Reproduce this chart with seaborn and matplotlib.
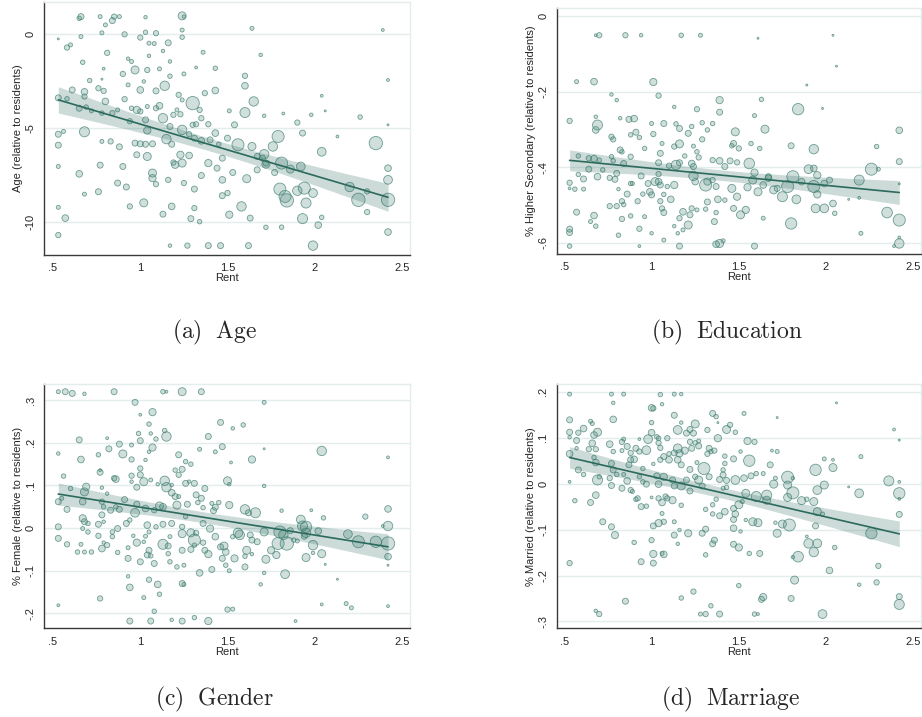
import numpy as np
import pandas as pd
import matplotlib
matplotlib.use("Agg")
import matplotlib.pyplot as plt
import seaborn as sns

# ---- (a) Age ----
age_rent = [0.53, 0.66, 0.65, 0.77, 0.85, 0.88, 1.24, 1.25, 1.03, 0.78,
            0.80, 0.84, 0.66, 0.91, 1.00, 1.03, 1.24, 1.24, 1.09, 1.64,
            2.39, 0.58, 0.60, 0.67, 0.81, 0.79, 0.78, 0.93, 0.95, 0.97,
            1.04, 1.05, 1.08, 1.05, 1.16, 1.13, 1.17, 1.17, 1.11, 1.25,
            1.36, 1.32, 1.43, 1.69, 0.61, 0.53, 0.58, 0.71, 0.68, 0.68,
            0.65, 0.69, 0.72, 0.76, 0.79, 0.80, 0.78, 0.84, 0.87, 0.93,
            0.90, 0.91, 0.95, 0.98, 1.00, 0.94, 1.00, 1.02, 1.04, 1.03,
            1.04, 1.03, 1.09, 1.09, 1.11, 1.14, 1.13, 1.19, 1.21, 1.17,
            1.15, 1.18, 1.07, 1.22, 1.24, 1.23, 1.30, 1.34, 1.37, 1.43,
            1.35, 1.24, 1.28, 1.30, 1.32, 1.31, 1.35, 1.40, 1.43, 1.39,
            1.45, 1.50, 1.54, 1.56, 1.60, 1.65, 1.60, 1.60, 1.51, 1.64,
            1.67, 1.71, 1.76, 1.72, 1.79, 1.81, 1.90, 1.93, 1.92, 2.04,
            2.35, 2.26, 2.04, 2.06, 1.82, 1.98, 2.13, 2.42, 2.42, 1.71,
            0.53, 0.53, 0.56, 0.53, 0.53, 0.53, 0.57, 0.65, 0.68, 0.68,
            0.77, 0.76, 0.78, 0.83, 0.88, 0.87, 0.92, 0.90, 0.94, 0.97,
            1.00, 0.98, 1.02, 1.04, 1.07, 1.07, 1.09, 1.13, 1.16, 1.18,
            1.19, 1.20, 1.24, 1.25, 1.23, 1.28, 1.31, 1.31, 1.29, 1.34,
            1.27, 1.17, 1.39, 1.46, 1.62, 1.99, 1.35, 1.39, 1.44, 1.47,
            1.47, 1.51, 1.50, 1.47, 1.53, 1.58, 1.61, 1.63, 1.67, 1.70,
            1.72, 1.77, 1.80, 1.83, 1.84, 1.81, 1.72, 1.86, 1.90, 1.93,
            1.94, 1.95, 1.99, 2.02, 2.04, 2.20, 2.25, 2.30, 2.30, 2.42,
            2.42, 2.42, 2.42]
age_gap = [-0.28, 0.90, 0.81, 0.90, 0.90, 0.90, 0.94, 0.90, 0.87, 0.04,
           0.46, 0.69, -0.16, -0.04, -0.21, 0.07, 0.19, -0.19, 0.02, 0.28,
           0.19, -0.74, -0.60, -1.52, -1.02, -1.86, -2.42, -1.33, -1.48, -1.93,
           -1.93, -0.51, -0.53, -1.18, -0.49, -0.92, -1.48, -2.26, -1.87, -2.14,
           -0.99, -1.80, -1.84, -1.13, -2.99, -3.41, -3.46, -2.49, -3.09, -3.34,
           -3.96, -3.90, -4.10, -2.90, -3.04, -3.60, -4.22, -4.22, -4.05, -2.72,
           -2.14, -3.48, -3.96, -4.05, -4.13, -4.65, -2.99, -2.54, -3.87, -4.58,
           -5.14, -5.87, -3.04, -3.96, -3.83, -2.77, -4.49, -4.31, -4.05, -4.93,
           -5.60, -5.87, -5.85, -3.25, -3.52, -4.28, -3.69, -4.05, -3.16, -3.02,
           -4.49, -5.11, -5.34, -4.84, -4.81, -5.55, -5.69, -5.64, -5.28, -4.81,
           -5.87, -5.55, -4.84, -5.90, -4.19, -3.60, -2.77, -2.24, -4.10, -5.99,
           -6.52, -6.40, -5.99, -6.87, -5.46, -6.87, -4.72, -5.28, -7.05, -6.27,
           -5.81, -4.43, -3.30, -4.10, -4.24, -4.31, -5.46, -2.46, -4.84, -4.36,
           -5.34, -5.92, -5.19, -7.05, -9.22, -10.69, -9.79, -7.44, -5.21, -8.52,
           -6.98, -8.39, -5.72, -5.72, -6.01, -7.93, -8.14, -7.05, -9.17, -5.81,
           -5.85, -6.43, -8.98, -6.52, -7.40, -7.67, -7.99, -9.58, -7.76, -9.17,
           -6.84, -6.96, -6.87, -7.93, -6.43, -6.47, -8.25, -9.26, -9.82, -9.98,
           -11.25, -11.25, -11.25, -11.25, -11.25, -11.25, -7.53, -6.87, -7.14, -7.76,
           -6.61, -9.61, -8.46, -8.60, -7.37, -9.17, -7.70, -9.79, -7.23, -6.61,
           -6.93, -7.37, -8.25, -8.64, -8.85, -10.27, -10.28, -7.19, -8.34, -9.82,
           -8.20, -8.99, -8.46, -10.16, -9.75, -8.14, -8.82, -8.37, -9.47, -7.14,
           -7.76, -8.82, -10.53]
age_pop = [1, 9, 5, 4, 7, 4, 16, 3, 3, 4,
           4, 9, 4, 7, 7, 5, 4, 5, 7, 4,
           2, 7, 4, 5, 7, 2, 1, 3, 4, 16,
           7, 4, 4, 3, 9, 3, 3, 5, 4, 4,
           4, 2, 5, 3, 9, 9, 5, 5, 11, 7,
           9, 5, 4, 7, 7, 11, 5, 7, 4, 4,
           7, 7, 5, 13, 7, 7, 11, 3, 4, 9,
           13, 9, 9, 7, 11, 22, 22, 7, 4, 9,
           22, 9, 9, 7, 4, 7, 44, 7, 7, 11,
           7, 22, 7, 7, 7, 9, 11, 9, 11, 7,
           5, 9, 9, 36, 25, 22, 11, 7, 4, 16,
           9, 22, 22, 9, 36, 36, 7, 9, 19, 19,
           44, 5, 2, 1, 2, 3, 2, 2, 1, 3,
           9, 9, 4, 4, 4, 7, 11, 11, 25, 4,
           9, 9, 4, 7, 9, 9, 9, 9, 7, 9,
           9, 9, 16, 16, 16, 13, 7, 9, 7, 11,
           7, 13, 16, 7, 13, 11, 9, 7, 9, 5,
           7, 3, 9, 9, 9, 22, 9, 13, 9, 11,
           9, 13, 7, 9, 9, 22, 16, 9, 9, 9,
           16, 9, 36, 36, 44, 5, 5, 16, 22, 25,
           36, 25, 19, 11, 5, 22, 44, 7, 7, 11,
           19, 44, 11]

# ---- (b) Education ----
edu_rent = [0.68, 0.70, 0.85, 0.94, 1.17, 1.28, 1.61, 2.04, 2.06, 0.57,
            0.67, 1.01, 1.04, 0.77, 0.80, 1.13, 1.26, 1.39, 1.39, 1.63,
            1.84, 1.89, 1.98, 1.59, 0.53, 0.68, 0.69, 0.68, 0.82, 0.87,
            0.90, 1.00, 1.07, 1.14, 1.16, 1.23, 1.21, 1.29, 1.32, 1.35,
            1.65, 1.48, 1.01, 0.88, 0.91, 0.93, 0.77, 0.78, 2.42, 1.29,
            1.16, 1.13, 1.06, 1.24, 1.47, 1.46, 1.50, 1.57, 1.62, 1.80,
            1.93, 2.29, 0.58, 0.64, 0.67, 0.70, 0.82, 0.83, 0.77, 0.78,
            0.84, 0.88, 0.96, 1.05, 1.04, 1.14, 1.10, 1.16, 1.19, 1.26,
            1.27, 1.23, 1.24, 1.35, 1.39, 1.42, 1.45, 1.49, 1.56, 1.59,
            1.67, 1.90, 1.93, 1.95, 2.26, 2.42, 2.30, 0.53, 0.53, 0.56,
            0.61, 0.58, 0.61, 0.64, 0.69, 0.72, 0.76, 0.79, 0.80, 0.88,
            0.89, 0.86, 0.81, 0.94, 1.02, 0.98, 0.95, 1.00, 0.99, 1.04,
            1.04, 1.05, 1.09, 1.13, 1.11, 1.07, 1.24, 1.25, 1.31, 1.32,
            1.35, 1.37, 1.46, 1.38, 1.42, 1.49, 1.55, 1.58, 1.61, 1.64,
            1.67, 1.70, 1.72, 1.75, 1.78, 1.81, 1.83, 1.86, 1.93, 1.95,
            1.99, 2.02, 2.19, 2.13, 2.19, 2.42, 1.94, 1.99, 2.04, 2.05,
            0.57, 0.65, 0.67, 0.68, 0.53, 0.53, 0.53, 0.76, 0.80, 0.83,
            0.84, 0.83, 0.88, 0.81, 0.92, 0.96, 0.93, 1.00, 0.93, 1.05,
            1.06, 1.07, 1.13, 1.15, 1.16, 1.07, 1.18, 1.16, 1.18, 1.21,
            1.22, 1.23, 1.26, 1.31, 1.32, 1.37, 1.36, 1.37, 1.39, 1.41,
            1.47, 1.51, 1.54, 1.64, 1.59, 1.80, 2.20, 2.35, 2.42, 2.42,
            2.42, 2.39]
edu_gap = [-0.050, -0.050, -0.050, -0.050, -0.050, -0.050, -0.058, -0.050, -0.132, -0.173,
           -0.173, -0.174, -0.210, -0.207, -0.222, -0.240, -0.246, -0.222, -0.254, -0.220,
           -0.246, -0.182, -0.244, -0.263, -0.277, -0.266, -0.288, -0.301, -0.270, -0.273,
           -0.271, -0.284, -0.284, -0.285, -0.297, -0.292, -0.310, -0.282, -0.301, -0.284,
           -0.299, -0.306, -0.312, -0.314, -0.307, -0.321, -0.319, -0.326, -0.302, -0.326,
           -0.338, -0.345, -0.337, -0.344, -0.337, -0.343, -0.350, -0.337, -0.350, -0.343,
           -0.352, -0.345, -0.370, -0.376, -0.377, -0.381, -0.354, -0.359, -0.372, -0.383,
           -0.390, -0.372, -0.350, -0.363, -0.388, -0.394, -0.396, -0.388, -0.370, -0.359,
           -0.374, -0.390, -0.398, -0.381, -0.383, -0.398, -0.383, -0.387, -0.390, -0.414,
           -0.425, -0.405, -0.403, -0.421, -0.405, -0.385, -0.405, -0.441, -0.456, -0.458,
           -0.458, -0.419, -0.431, -0.405, -0.425, -0.407, -0.428, -0.432, -0.416, -0.443,
           -0.443, -0.471, -0.458, -0.423, -0.438, -0.443, -0.471, -0.473, -0.465, -0.418,
           -0.438, -0.447, -0.451, -0.447, -0.485, -0.472, -0.423, -0.438, -0.447, -0.438,
           -0.434, -0.451, -0.456, -0.485, -0.487, -0.478, -0.453, -0.434, -0.465, -0.447,
           -0.429, -0.460, -0.456, -0.478, -0.451, -0.425, -0.485, -0.438, -0.451, -0.472,
           -0.443, -0.434, -0.434, -0.485, -0.481, -0.444, -0.509, -0.509, -0.496, -0.522,
           -0.519, -0.544, -0.528, -0.556, -0.564, -0.573, -0.609, -0.503, -0.503, -0.490,
           -0.499, -0.537, -0.529, -0.580, -0.490, -0.531, -0.563, -0.575, -0.609, -0.490,
           -0.509, -0.520, -0.556, -0.575, -0.609, -0.593, -0.566, -0.535, -0.518, -0.553,
           -0.526, -0.509, -0.513, -0.511, -0.492, -0.520, -0.544, -0.604, -0.602, -0.595,
           -0.509, -0.526, -0.513, -0.535, -0.609, -0.549, -0.575, -0.520, -0.540, -0.602,
           -0.586, -0.609]
edu_pop = [2, 7, 7, 3, 5, 4, 1, 1, 1, 4,
           11, 13, 7, 3, 3, 3, 7, 13, 9, 5,
           32, 1, 1, 4, 7, 3, 25, 11, 3, 9,
           11, 4, 9, 5, 9, 5, 9, 5, 5, 5,
           16, 16, 7, 5, 9, 5, 7, 7, 11, 7,
           16, 7, 4, 4, 9, 5, 7, 5, 5, 9,
           22, 5, 5, 7, 11, 5, 9, 5, 5, 5,
           9, 7, 5, 9, 9, 22, 7, 9, 5, 5,
           7, 11, 9, 7, 11, 9, 9, 7, 28, 13,
           9, 19, 11, 13, 36, 9, 4, 7, 2, 5,
           4, 5, 9, 9, 11, 5, 7, 9, 9, 5,
           4, 9, 3, 9, 16, 9, 5, 9, 11, 7,
           11, 9, 5, 13, 11, 5, 22, 11, 36, 13,
           7, 9, 16, 11, 5, 13, 13, 16, 16, 11,
           11, 16, 9, 25, 36, 36, 19, 11, 36, 13,
           11, 9, 25, 1, 2, 1, 19, 19, 11, 5,
           9, 4, 11, 5, 9, 9, 5, 7, 7, 7,
           5, 7, 5, 5, 7, 4, 7, 3, 2, 7,
           7, 9, 3, 3, 9, 4, 4, 7, 11, 16,
           9, 7, 4, 5, 9, 5, 9, 11, 16, 4,
           9, 16, 13, 4, 9, 32, 4, 28, 36, 22,
           2, 2]

# ---- (c) Gender ----
fem_rent = [0.53, 0.57, 0.61, 0.68, 0.85, 1.13, 1.15, 1.24, 1.35, 0.97,
            1.71, 1.00, 1.07, 1.05, 1.14, 1.15, 0.99, 1.06, 1.09, 1.07,
            1.39, 1.46, 1.53, 1.59, 1.71, 2.04, 0.65, 0.81, 0.82, 0.88,
            0.95, 1.00, 0.53, 0.66, 0.76, 0.90, 0.95, 1.03, 1.05, 1.34,
            1.43, 1.47, 1.22, 1.26, 1.29, 1.52, 1.64, 0.56, 0.77, 0.77,
            0.85, 0.86, 0.95, 1.00, 1.00, 1.02, 0.95, 0.98, 1.10, 1.06,
            1.20, 1.22, 1.24, 1.14, 1.15, 1.18, 1.26, 1.31, 1.28, 1.37,
            1.32, 1.18, 1.20, 1.22, 1.50, 1.51, 1.71, 0.60, 0.69, 0.68,
            0.67, 0.53, 0.55, 0.58, 0.78, 0.81, 0.78, 0.79, 0.83, 0.88,
            0.86, 0.91, 0.97, 0.98, 1.03, 1.08, 1.11, 1.13, 1.21, 1.27,
            1.26, 1.33, 1.35, 1.41, 1.43, 1.45, 1.42, 1.51, 1.60, 1.62,
            1.66, 1.81, 1.98, 2.05, 2.29, 2.42, 2.42, 2.39, 0.53, 0.53,
            0.58, 0.66, 0.64, 0.67, 0.68, 0.70, 0.67, 0.70, 0.68, 0.72,
            0.76, 0.78, 0.79, 0.76, 0.79, 0.78, 0.81, 0.84, 0.84, 0.87,
            0.92, 0.94, 0.87, 0.93, 0.93, 0.98, 0.96, 1.02, 1.03, 1.04,
            1.05, 1.00, 1.04, 1.05, 1.06, 1.09, 1.08, 1.13, 1.16, 1.16,
            1.17, 1.17, 1.13, 1.18, 1.24, 1.24, 1.21, 1.25, 1.24, 1.29,
            1.31, 1.32, 1.29, 1.31, 1.34, 1.36, 1.36, 1.37, 1.39, 1.40,
            1.41, 1.43, 1.46, 1.48, 1.49, 1.47, 1.49, 1.51, 1.53, 1.54,
            1.56, 1.57, 1.60, 1.61, 1.60, 1.63, 1.64, 1.67, 1.64, 1.71,
            1.72, 1.75, 1.69, 1.71, 1.78, 1.80, 1.79, 1.82, 1.84, 1.83,
            1.86, 1.88, 1.90, 1.92, 1.93, 1.95, 1.95, 1.94, 1.95, 1.99,
            1.99, 2.02, 2.04, 2.06, 2.13, 2.19, 2.25, 2.35, 2.42, 2.42,
            2.42, 2.42, 0.53, 0.77, 1.02, 0.93, 0.94, 1.05, 1.10, 1.11,
            1.24, 1.25, 1.08, 0.94, 1.06, 1.18, 1.24, 1.31, 1.39, 1.50,
            1.53, 1.89, 2.04, 2.18, 2.21, 2.42, 1.36]
fem_gap = [0.320, 0.320, 0.316, 0.315, 0.320, 0.320, 0.320, 0.320, 0.320, 0.295,
           0.295, 0.266, 0.272, 0.244, 0.229, 0.215, 0.222, 0.222, 0.209, 0.189,
           0.215, 0.248, 0.234, 0.242, 0.186, 0.181, 0.207, 0.211, 0.186, 0.197,
           0.195, 0.205, 0.175, 0.161, 0.172, 0.174, 0.161, 0.160, 0.179, 0.185,
           0.179, 0.191, 0.172, 0.156, 0.150, 0.154, 0.161, 0.122, 0.136, 0.131,
           0.117, 0.115, 0.123, 0.140, 0.125, 0.109, 0.109, 0.096, 0.103, 0.113,
           0.136, 0.125, 0.138, 0.111, 0.096, 0.101, 0.105, 0.105, 0.109, 0.093,
           0.078, 0.083, 0.074, 0.074, 0.111, 0.103, 0.099, 0.093, 0.097, 0.085,
           0.062, 0.062, 0.070, 0.044, 0.095, 0.081, 0.062, 0.050, 0.042, 0.044,
           0.050, 0.067, 0.036, 0.056, 0.046, 0.042, 0.052, 0.050, 0.054, 0.056,
           0.027, 0.060, 0.070, 0.058, 0.049, 0.060, 0.041, 0.054, 0.044, 0.036,
           0.036, 0.041, 0.042, 0.024, 0.027, 0.045, 0.005, 0.005, 0.003, -0.024,
           -0.038, -0.038, -0.056, 0.023, 0.015, 0.011, -0.001, -0.009, -0.056, -0.056,
           0.009, 0.031, 0.015, -0.018, -0.034, -0.048, -0.040, -0.020, -0.009, -0.001,
           0.011, 0.019, -0.057, -0.071, -0.046, -0.034, -0.018, -0.032, -0.019, 0.007,
           -0.009, -0.079, -0.063, -0.052, -0.065, 0.003, -0.083, -0.038, -0.042, -0.060,
           -0.079, -0.020, 0.009, 0.011, 0.003, -0.013, -0.091, -0.087, -0.052, -0.011,
           -0.028, -0.011, -0.050, -0.040, -0.105, 0.011, -0.034, -0.052, -0.061, -0.001,
           -0.097, -0.020, -0.044, -0.042, -0.056, -0.071, -0.087, -0.100, -0.020, -0.071,
           -0.011, -0.016, -0.066, -0.052, -0.091, -0.016, -0.028, -0.032, -0.061, -0.009,
           -0.073, -0.052, -0.132, -0.105, -0.063, -0.009, -0.036, -0.016, -0.036, -0.108,
           -0.006, -0.028, -0.030, 0.020, 0.005, 0.003, -0.011, -0.019, -0.069, -0.040,
           -0.058, -0.007, -0.060, -0.085, -0.120, -0.014, -0.032, -0.032, -0.036, -0.067,
           -0.087, 0.166, -0.181, -0.165, -0.163, -0.113, -0.139, -0.121, -0.132, -0.155,
           -0.130, -0.132, -0.195, -0.218, -0.218, -0.215, -0.218, -0.210, -0.218, -0.191,
           -0.190, -0.218, -0.179, -0.177, -0.187, -0.183, 0.048]
fem_pop = [4, 9, 9, 3, 9, 5, 2, 16, 9, 9,
           4, 2, 13, 5, 5, 22, 5, 3, 5, 13,
           9, 9, 3, 5, 1, 22, 9, 2, 9, 9,
           4, 9, 3, 11, 5, 16, 7, 3, 3, 4,
           4, 9, 9, 5, 5, 2, 13, 5, 2, 9,
           7, 11, 7, 7, 9, 16, 3, 9, 3, 4,
           5, 7, 9, 22, 22, 3, 9, 9, 3, 9,
           9, 11, 9, 4, 16, 3, 3, 5, 13, 16,
           11, 9, 4, 9, 3, 3, 7, 5, 9, 9,
           5, 9, 19, 9, 11, 7, 16, 11, 16, 9,
           5, 5, 9, 4, 9, 5, 9, 13, 22, 9,
           25, 3, 2, 5, 7, 11, 22, 2, 9, 9,
           7, 4, 5, 13, 9, 5, 4, 5, 4, 5,
           9, 9, 3, 7, 3, 11, 7, 5, 5, 9,
           9, 5, 5, 9, 4, 13, 3, 3, 4, 11,
           4, 9, 9, 9, 5, 5, 9, 25, 9, 5,
           5, 4, 9, 9, 7, 16, 5, 4, 9, 16,
           36, 7, 9, 5, 11, 9, 7, 9, 13, 13,
           9, 11, 9, 16, 11, 9, 5, 4, 5, 13,
           22, 22, 5, 16, 9, 9, 9, 9, 3, 16,
           16, 13, 3, 3, 13, 36, 36, 22, 44, 19,
           9, 5, 4, 19, 25, 32, 22, 9, 16, 22,
           3, 11, 16, 1, 1, 19, 36, 32, 44, 11,
           1, 2, 2, 7, 4, 3, 11, 7, 11, 5,
           9, 4, 5, 9, 9, 3, 9, 5, 13, 7,
           4, 2, 2, 4, 4, 2, 5]

# ---- (d) Marriage ----
mar_rent = [0.53, 0.77, 0.84, 1.05, 1.13, 1.17, 0.78, 1.06, 1.00, 1.01,
            2.06, 1.35, 1.37, 1.53, 1.72, 1.13, 0.53, 0.65, 0.66, 0.61,
            0.78, 1.00, 1.17, 1.38, 1.25, 1.45, 0.53, 0.58, 0.69, 0.67,
            1.00, 1.03, 1.15, 1.20, 1.22, 1.24, 1.32, 1.43, 1.48, 2.39,
            0.53, 0.57, 0.66, 0.76, 0.83, 0.84, 0.93, 0.98, 1.04, 1.04,
            1.09, 1.22, 1.25, 1.27, 1.38, 1.55, 1.59, 2.42, 0.57, 0.64,
            0.68, 0.78, 0.86, 0.83, 0.88, 0.91, 0.93, 0.97, 1.05, 1.07,
            1.10, 1.13, 1.15, 1.16, 1.19, 1.23, 1.27, 1.33, 1.34, 1.36,
            1.32, 1.51, 1.69, 1.72, 0.53, 0.67, 0.68, 0.77, 0.87, 0.88,
            0.90, 1.01, 1.05, 1.10, 1.15, 1.17, 1.26, 1.30, 1.42, 1.42,
            1.47, 1.56, 1.68, 1.99, 2.04, 2.04, 2.20, 1.94, 0.58, 0.61,
            0.53, 0.69, 0.70, 0.76, 0.78, 0.80, 0.84, 0.86, 0.77, 0.83,
            0.93, 0.95, 0.97, 1.03, 1.04, 1.07, 1.12, 1.13, 1.17, 1.20,
            1.22, 1.22, 1.25, 1.27, 1.29, 1.33, 1.39, 1.43, 1.41, 1.41,
            1.48, 1.53, 1.57, 1.60, 1.64, 1.70, 1.71, 1.78, 1.81, 1.78,
            1.81, 1.99, 1.95, 2.13, 2.19, 2.36, 2.42, 2.42, 2.42, 2.42,
            0.56, 0.65, 0.68, 0.88, 0.89, 0.91, 0.92, 0.94, 0.97, 1.00,
            1.04, 1.06, 1.08, 1.09, 1.12, 1.17, 1.06, 1.07, 1.04, 1.01,
            1.13, 1.16, 1.13, 1.15, 1.21, 1.29, 1.31, 1.31, 1.35, 1.37,
            1.41, 1.43, 1.35, 1.39, 1.42, 1.47, 1.48, 1.50, 1.52, 1.47,
            1.47, 1.51, 1.54, 1.54, 1.60, 1.58, 1.61, 1.66, 1.66, 1.71,
            1.75, 1.79, 1.78, 1.86, 1.89, 1.93, 1.95, 1.98, 1.72, 1.94,
            1.89, 1.90, 1.95, 1.93, 2.26, 2.05, 1.84, 1.81, 1.56, 1.62,
            1.50, 1.47, 1.36, 1.35, 1.31, 1.00, 0.90, 1.01, 1.06, 1.07,
            0.94, 1.01, 0.53, 0.72, 0.77, 0.79, 2.02, 2.30, 2.29, 2.19,
            1.82, 1.50, 1.24, 1.17, 0.85, 1.34, 1.64, 1.63, 1.80, 2.42,
            2.42, 0.68, 0.70, 1.28, 1.31, 1.39, 1.59, 1.61, 1.98, 0.95]
mar_gap = [0.195, 0.195, 0.195, 0.194, 0.195, 0.195, 0.176, 0.173, 0.165, 0.164,
           0.176, 0.153, 0.146, 0.153, 0.144, 0.149, 0.139, 0.136, 0.131, 0.120,
           0.140, 0.133, 0.133, 0.133, 0.130, 0.128, 0.112, 0.111, 0.112, 0.106,
           0.111, 0.102, 0.117, 0.110, 0.118, 0.110, 0.117, 0.118, 0.112, 0.118,
           0.101, 0.094, 0.088, 0.086, 0.091, 0.097, 0.097, 0.097, 0.099, 0.089,
           0.099, 0.091, 0.089, 0.093, 0.099, 0.093, 0.091, 0.095, 0.077, 0.075,
           0.075, 0.070, 0.081, 0.072, 0.067, 0.077, 0.070, 0.073, 0.078, 0.059,
           0.065, 0.067, 0.077, 0.066, 0.072, 0.077, 0.082, 0.077, 0.070, 0.072,
           0.065, 0.070, 0.072, 0.070, 0.065, 0.057, 0.046, 0.044, 0.041, 0.052,
           0.053, 0.043, 0.052, 0.052, 0.052, 0.041, 0.046, 0.033, 0.060, 0.044,
           0.054, 0.050, 0.041, 0.054, 0.052, 0.035, 0.059, 0.030, 0.030, 0.020,
           0.004, 0.008, 0.015, 0.012, 0.030, 0.020, 0.020, 0.006, -0.004, -0.010,
           0.015, 0.004, -0.001, 0.017, -0.001, 0.015, 0.008, -0.005, -0.005, 0.008,
           0.031, -0.016, 0.015, 0.008, -0.005, 0.015, 0.009, 0.007, 0.019, 0.030,
           0.008, 0.012, 0.017, 0.022, 0.022, -0.001, 0.012, 0.014, 0.012, -0.003,
           -0.020, -0.003, -0.014, -0.007, -0.021, 0.006, 0.004, -0.021, -0.033, -0.067,
           -0.037, -0.041, -0.025, -0.014, -0.017, -0.034, -0.032, -0.050, -0.049, -0.030,
           -0.032, -0.041, -0.028, -0.032, -0.036, -0.047, -0.065, -0.083, -0.086, -0.092,
           -0.083, -0.101, -0.112, -0.131, -0.108, -0.108, -0.099, -0.056, -0.046, -0.034,
           -0.010, -0.008, -0.066, -0.070, -0.061, -0.054, -0.066, -0.046, -0.039, -0.078,
           -0.097, -0.104, -0.079, -0.021, -0.028, -0.083, -0.085, -0.025, -0.036, -0.085,
           -0.088, -0.090, -0.030, -0.037, -0.034, -0.039, -0.061, -0.066, -0.108, -0.092,
           -0.115, -0.130, -0.130, -0.149, -0.108, -0.139, -0.159, -0.160, -0.152, -0.152,
           -0.139, -0.132, -0.123, -0.131, -0.155, -0.123, -0.128, -0.153, -0.152, -0.154,
           -0.170, -0.173, -0.173, -0.083, -0.094, -0.112, -0.189, -0.179, -0.215, -0.220,
           -0.210, -0.222, -0.235, -0.249, -0.256, -0.266, -0.247, -0.252, -0.250, -0.246,
           -0.263, -0.277, -0.284, -0.284, -0.284, -0.284, -0.284, -0.284, -0.284, 0.033]
mar_pop = [4, 4, 4, 5, 4, 3, 3, 3, 11, 7,
           1, 9, 5, 4, 1, 9, 9, 4, 4, 11,
           11, 5, 3, 1, 16, 7, 9, 7, 16, 11,
           11, 5, 19, 9, 9, 9, 7, 16, 5, 2,
           3, 9, 11, 11, 7, 4, 2, 19, 5, 7,
           7, 7, 5, 4, 13, 13, 7, 1, 3, 7,
           7, 5, 9, 4, 7, 9, 7, 19, 7, 9,
           5, 9, 19, 13, 13, 9, 9, 9, 5, 7,
           7, 3, 2, 4, 11, 5, 11, 9, 9, 9,
           11, 3, 7, 11, 11, 9, 4, 36, 5, 5,
           9, 32, 9, 4, 2, 16, 4, 32, 9, 5,
           2, 25, 5, 7, 9, 5, 4, 11, 9, 9,
           5, 5, 9, 9, 11, 13, 9, 9, 16, 9,
           9, 9, 7, 16, 9, 9, 9, 9, 9, 5,
           19, 11, 9, 5, 4, 16, 4, 36, 3, 16,
           36, 16, 19, 1, 19, 25, 2, 32, 2, 9,
           5, 9, 11, 7, 4, 5, 7, 9, 5, 2,
           7, 11, 7, 7, 13, 5, 4, 7, 13, 9,
           4, 3, 9, 3, 13, 9, 9, 5, 5, 5,
           4, 5, 5, 9, 11, 9, 11, 16, 4, 9,
           11, 3, 3, 16, 25, 16, 16, 25, 16, 3,
           16, 36, 16, 16, 5, 16, 16, 4, 16, 9,
           2, 22, 19, 22, 32, 5, 28, 3, 5, 9,
           13, 9, 9, 9, 5, 7, 5, 13, 4, 11,
           9, 9, 7, 9, 9, 13, 11, 7, 7, 3,
           16, 5, 7, 5, 9, 5, 13, 9, 9, 9,
           25, 3, 7, 4, 7, 9, 5, 2, 19, 5]

x_ticks = [0.5, 1, 1.5, 2, 2.5]
x_ticklabels = [".5", "1", "1.5", "2", "2.5"]

FILL = (0.24, 0.49, 0.43, 0.24)
EDGE = (0.26, 0.51, 0.45, 0.75)
LINE = "#2b6a5d"


def weighted_fit(x, y, w, n=100):
    # population-weighted linear fit with a 95% band for the mean
    x, y, w = np.asarray(x), np.asarray(y), np.asarray(w, dtype=float)
    w = w * len(w) / w.sum()
    X = np.column_stack([np.ones_like(x), x])
    xtwx = X.T @ (w[:, None] * X)
    beta = np.linalg.solve(xtwx, X.T @ (w * y))
    resid = y - X @ beta
    s2 = (w * resid ** 2).sum() / (len(x) - 2)
    cov = s2 * np.linalg.inv(xtwx)
    grid = np.linspace(x.min(), x.max(), n)
    G = np.column_stack([np.ones_like(grid), grid])
    fit = G @ beta
    se = np.sqrt(np.einsum("ij,jk,ik->i", G, cov, G))
    return grid, fit, fit - 1.97 * se, fit + 1.97 * se


def panel(ax, rent, gap, pop, ylabel, yticks, yticklabels, xlim, ylim):
    df = pd.DataFrame({"rent": rent, "gap": gap, "pop": pop})
    sns.scatterplot(data=df, x="rent", y="gap", size="pop", sizes=(2, 92),
                    size_norm=(1, 44), facecolor=FILL, edgecolor=EDGE,
                    linewidth=0.6, legend=False, ax=ax, zorder=2)
    grid, fit, lo, hi = weighted_fit(rent, gap, pop)
    ax.fill_between(grid, lo, hi, color=LINE, alpha=0.24, lw=0, zorder=3)
    sns.lineplot(x=grid, y=fit, color=LINE, lw=1.2, ax=ax, zorder=4)
    ax.set_xlim(*xlim)
    ax.set_ylim(*ylim)
    ax.set_xticks(x_ticks)
    ax.set_xticklabels(x_ticklabels)
    ax.set_yticks(yticks)
    ax.set_yticklabels(yticklabels, rotation=90, va="center")
    ax.yaxis.grid(True, color="#e3edee", lw=1.0, zorder=0)
    ax.xaxis.grid(False)
    ax.set_axisbelow(True)
    ax.tick_params(direction="out", length=4, width=0.8, color="#333333",
                   labelsize=8, pad=2)
    for side in ("left", "bottom"):
        ax.spines[side].set_color("#3a3a3a")
        ax.spines[side].set_linewidth(1.0)
    for side in ("top", "right"):
        ax.spines[side].set_color("#e3edee")
        ax.spines[side].set_linewidth(1.0)
    ax.set_xlabel("Rent", fontsize=8, labelpad=0)
    ax.set_ylabel(ylabel, fontsize=8, labelpad=2)


sns.set_style("white")
plt.rcParams["font.family"] = ["Liberation Sans", "DejaVu Sans"]
plt.rcParams["mathtext.fontset"] = "cm"

fig = plt.figure(figsize=(9.22, 7.17), dpi=100)

ax_a = fig.add_axes([0.0477, 0.6443, 0.397, 0.353])
panel(ax_a, age_rent, age_gap, age_pop, "Age (relative to residents)",
      [0, -5, -10], ["0", "-5", "-10"], (0.448, 2.546), (-11.75, 1.68))

ax_b = fig.add_axes([0.6038, 0.6457, 0.395, 0.343])
panel(ax_b, edu_rent, edu_gap, edu_pop, "% Higher Secondary (relative to residents)",
      [0, -0.2, -0.4, -0.6], ["0", "-.2", "-.4", "-.6"], (0.456, 2.544), (-0.630, 0.022))

ax_c = fig.add_axes([0.0477, 0.1237, 0.397, 0.3407])
panel(ax_c, fem_rent, fem_gap, fem_pop, "% Female (relative to residents)",
      [0.3, 0.2, 0.1, 0, -0.1, -0.2], [".3", ".2", ".1", "0", "-.1", "-.2"],
      (0.448, 2.546), (-0.235, 0.338))

ax_d = fig.add_axes([0.6038, 0.1237, 0.395, 0.3407])
panel(ax_d, mar_rent, mar_gap, mar_pop, "% Married (relative to residents)",
      [0.2, 0.1, 0, -0.1, -0.2, -0.3], [".2", ".1", "0", "-.1", "-.2", "-.3"],
      (0.456, 2.544), (-0.315, 0.217))

captions = [(0.233, 0.536, r"$\mathrm{(a)}\ \ \mathrm{Age}$"),
            (0.789, 0.536, r"$\mathrm{(b)}\ \ \mathrm{Education}$"),
            (0.233, 0.025, r"$\mathrm{(c)}\ \ \mathrm{Gender}$"),
            (0.792, 0.025, r"$\mathrm{(d)}\ \ \mathrm{Marriage}$")]
for cx, cy, txt in captions:
    fig.text(cx, cy, txt, ha="center", va="center", fontsize=17)

fig.savefig("out.png", dpi=100)
